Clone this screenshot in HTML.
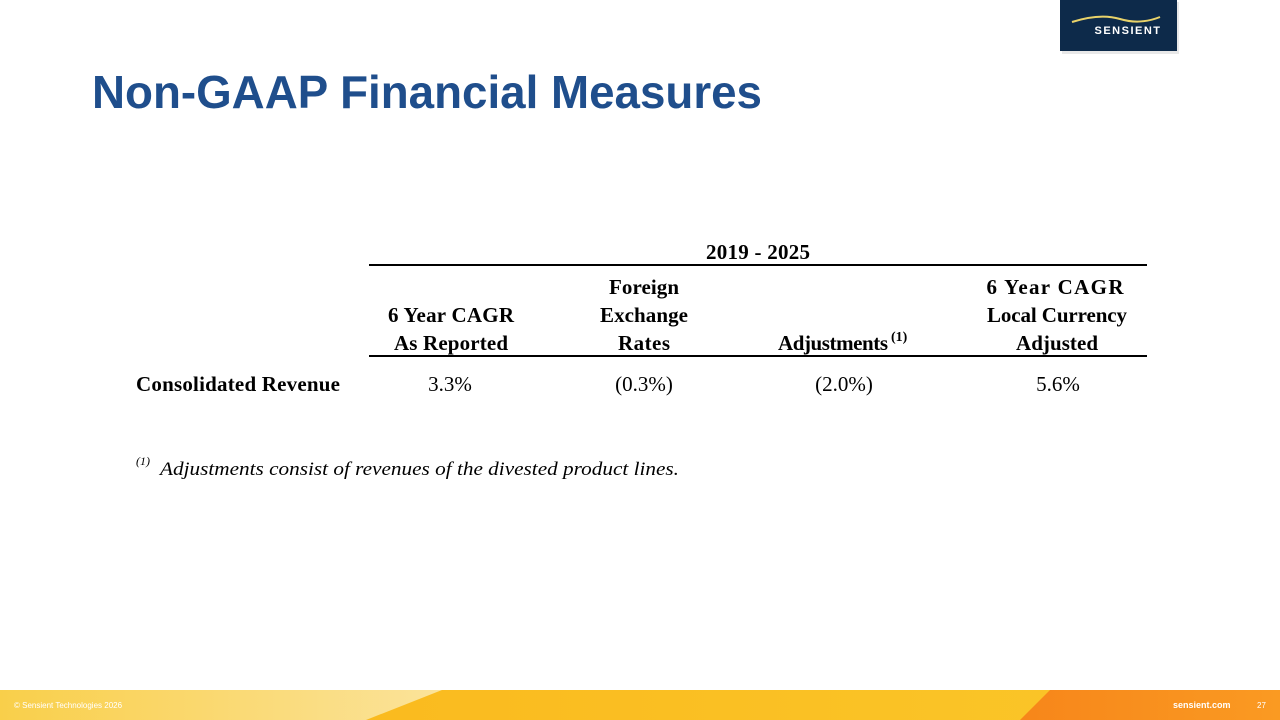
<!DOCTYPE html>
<html><head><meta charset="utf-8"><style>
html,body{margin:0;padding:0;background:#fff;width:1280px;height:720px;overflow:hidden}
</style></head><body>
<svg width="1280" height="720" xmlns="http://www.w3.org/2000/svg">
<defs>
<linearGradient id="g1" x1="0" x2="1"><stop offset="0" stop-color="#f9cf4a"/><stop offset="1" stop-color="#fbe39a"/></linearGradient>
<linearGradient id="g2" x1="0" x2="1"><stop offset="0" stop-color="#f9b51a"/><stop offset="1" stop-color="#fbc82a"/></linearGradient>
<linearGradient id="g3" x1="0" x2="1"><stop offset="0" stop-color="#f7861a"/><stop offset="1" stop-color="#fa9a22"/></linearGradient>
</defs>
<rect x="1062" y="2" width="117" height="52" fill="#d8d8d8" opacity="0.6"/>
<rect x="1060" y="0" width="117" height="51" fill="#0d2a4a"/>
<path d="M1072 22 Q1100 13 1120 19 T1160 17" stroke="#e9d36a" stroke-width="2" fill="none"/>
<text x="1128" y="34" font-family="Liberation Sans, sans-serif" font-weight="bold" font-size="11" fill="#fff" text-anchor="middle" letter-spacing="1.5">SENSIENT</text>
<text x="92" y="108" font-family="Liberation Sans, sans-serif" font-weight="bold" font-size="46" fill="#1f4e8c" textLength="670" lengthAdjust="spacingAndGlyphs">Non-GAAP Financial Measures</text>
<g font-family="Liberation Serif, serif" font-weight="bold" font-size="21" fill="#000" text-anchor="middle" lengthAdjust="spacingAndGlyphs">
<text x="758" y="259" textLength="104">2019 - 2025</text>
<text x="644" y="294" textLength="70">Foreign</text>
<text x="1055" y="294" textLength="137">6 Year CAGR</text>
<text x="451" y="322" textLength="126">6 Year CAGR</text>
<text x="644" y="322" textLength="88">Exchange</text>
<text x="1057" y="322" textLength="140">Local Currency</text>
<text x="451" y="350" textLength="114">As Reported</text>
<text x="644" y="350" textLength="52">Rates</text>
<text x="833" y="350" textLength="110">Adjustments</text>
<text x="1057" y="350" textLength="82">Adjusted</text>
<text x="238" y="391" textLength="204">Consolidated Revenue</text>
</g>
<text x="891" y="341" font-family="Liberation Serif, serif" font-weight="bold" font-size="14">(1)</text>
<rect x="369" y="264" width="778" height="2" fill="#000"/>
<rect x="369" y="355" width="778" height="2" fill="#000"/>
<g font-family="Liberation Serif, serif" font-size="21" fill="#000" text-anchor="middle">
<text x="450" y="391">3.3%</text>
<text x="644" y="391">(0.3%)</text>
<text x="844" y="391">(2.0%)</text>
<text x="1058" y="391">5.6%</text>
</g>
<text x="136" y="465" font-family="Liberation Serif, serif" font-style="italic" font-size="12">(1)</text>
<text x="160" y="475" font-family="Liberation Serif, serif" font-style="italic" font-size="19" textLength="519" lengthAdjust="spacingAndGlyphs">Adjustments consist of revenues of the divested product lines.</text>
<rect x="0" y="690" width="1280" height="30" fill="url(#g2)"/>
<polygon points="0,690 442,690 366,720 0,720" fill="url(#g1)"/>
<polygon points="1050,690 1280,690 1280,720 1020,720" fill="url(#g3)"/>
<text x="14" y="708" font-family="Liberation Sans, sans-serif" font-size="8" fill="#fff">© Sensient Technologies 2026</text>
<text x="1173" y="708" font-family="Liberation Sans, sans-serif" font-weight="bold" font-size="9" fill="#fff">sensient.com</text>
<text x="1257" y="708" font-family="Liberation Sans, sans-serif" font-size="8" fill="#fff">27</text>
</svg>
</body></html>
